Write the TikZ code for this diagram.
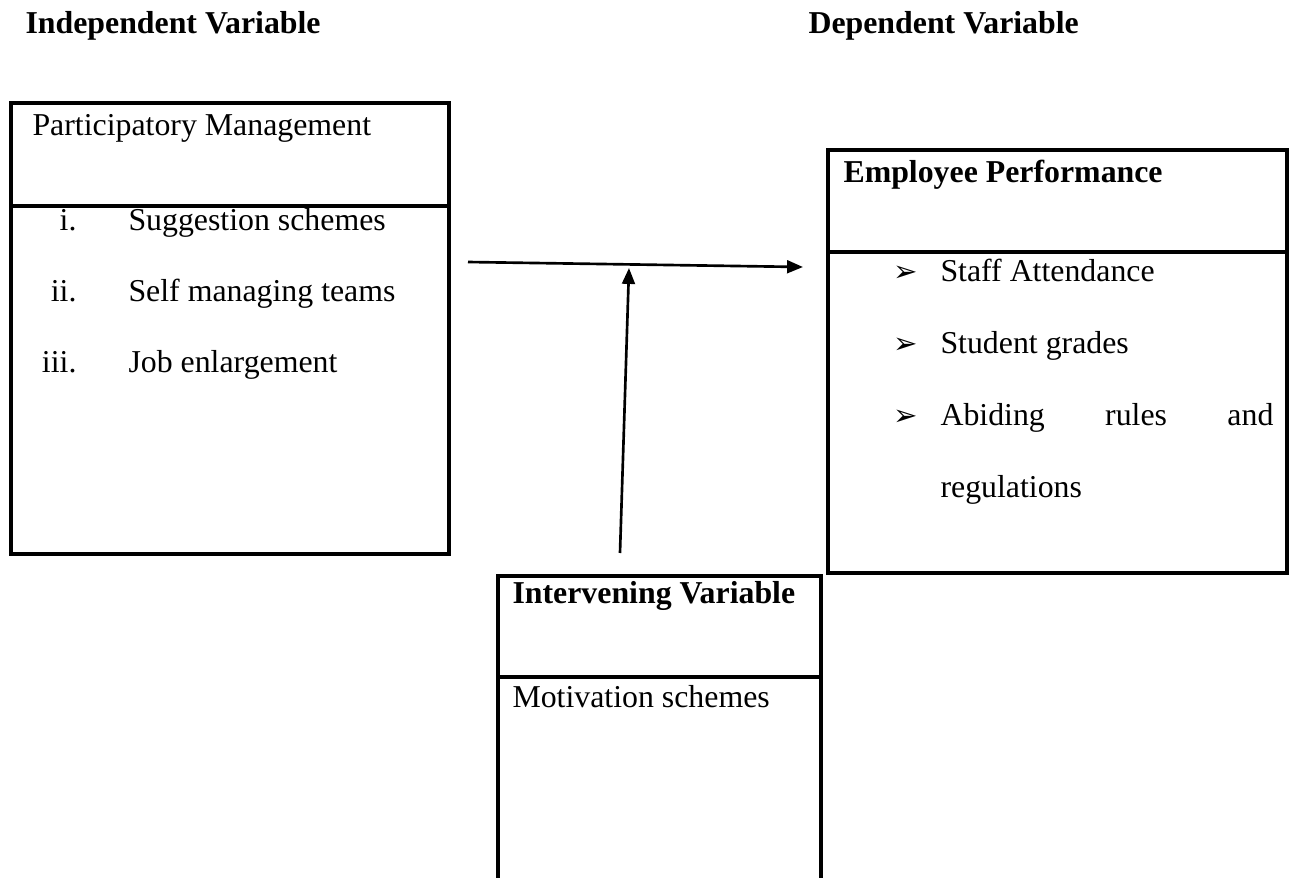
\documentclass[tikz,border=0pt]{standalone}
\usepackage{fontspec}
\setmainfont{Liberation Serif}
\newfontfamily\dingfont{DejaVu Sans}
\usetikzlibrary{arrows.meta}
\tikzset{
  boxline/.style={line width=1.15pt},
  linkarrow/.style={-{Triangle[length=6pt, width=4.8pt]}, line width=1pt},
  headtext/.style={anchor=base west, inner sep=0pt, font=\fontsize{12pt}{14pt}\selectfont\bfseries},
  bodytext/.style={anchor=base west, inner sep=0pt, font=\fontsize{12pt}{14pt}\selectfont},
  numtext/.style={anchor=base east, inner sep=0pt, font=\fontsize{12pt}{14pt}\selectfont},
  bulletmark/.style={anchor=base west, inner sep=0pt, font=\fontsize{11pt}{13pt}\dingfont}
}

\begin{document}
\begin{tikzpicture}[x=0.377pt, y=-0.377pt]
  \useasboundingbox (0,0) rectangle (1289,878);
  % titles
  \node[headtext] (indeptitle) at (25,33) {Independent Variable};
  \node[headtext] (deptitle) at (808,33) {Dependent Variable};
  % independent variable box
  \draw[boxline] (11,103) rectangle (449,554);
  \draw[boxline] (11,206) -- (449,206);
  \node[bodytext] (pmhead) at (32,135) {Participatory Management};
  \node[numtext] (num1) at (77,230) {i.};
  \node[bodytext] (item1) at (128,230) {Suggestion schemes};
  \node[numtext] (num2) at (77,301) {ii.};
  \node[bodytext] (item2) at (128,301) {Self managing teams};
  \node[numtext] (num3) at (77,372) {iii.};
  \node[bodytext] (item3) at (128,372) {Job enlargement};
  % dependent variable box
  \draw[boxline] (828,150) rectangle (1287,573);
  \draw[boxline] (828,252) -- (1287,252);
  \node[headtext] (ephead) at (843,182) {Employee Performance};
  \node[bulletmark] (mark1) at (893,281) {➢};
  \node[bodytext] (perf1) at (940,281) {Staff Attendance};
  \node[bulletmark] (mark2) at (893,353) {➢};
  \node[bodytext] (perf2) at (940,353) {Student grades};
  \node[bulletmark] (mark3) at (893,425) {➢};
  \node[bodytext, text width=125.5pt] (perf3) at (940,425) {Abiding\hfill rules\hfill and};
  \node[bodytext] (perf3b) at (940,497) {regulations};
  % intervening variable box
  \draw[boxline] (498,880) -- (498,576) -- (821,576) -- (821,880);
  \draw[boxline] (498,677) -- (821,677);
  \node[headtext] (ivhead) at (512,603) {Intervening Variable};
  \node[bodytext] (ivbody) at (512,707) {Motivation schemes};
  % links
  \coordinate (linkstart) at (468,262);
  \coordinate (linkend) at (803,267);
  \coordinate (modstart) at (620,553);
  \coordinate (modend) at (629,268);
  \draw[linkarrow] (linkstart) -- (linkend);
  \draw[linkarrow] (modstart) -- (modend);
\end{tikzpicture}
\end{document}
